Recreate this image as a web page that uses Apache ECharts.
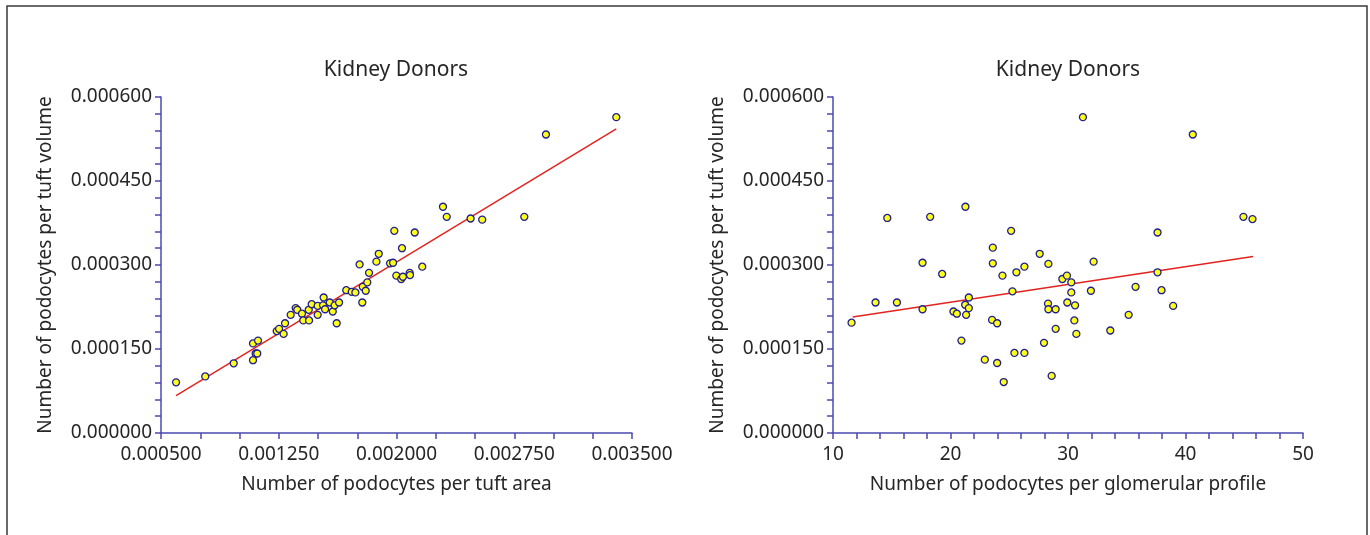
<!DOCTYPE html>
<html>
<head>
<meta charset="utf-8">
<script src="https://cdn.jsdelivr.net/npm/echarts@6/dist/echarts.min.js"></script>
<style>
html,body{margin:0;padding:0;background:#fff;}
#chart{width:1370px;height:535px;}
</style>
</head>
<body>
<div id="chart"></div>
<script>
// ---------- data ----------
const chartTitle = "Kidney Donors";
const yAxisName = "Number of podocytes per tuft volume";
const leftXName = "Number of podocytes per tuft area";
const rightXName = "Number of podocytes per glomerular profile";

// Left panel: podocytes per tuft area (x) vs per tuft volume (y)
const areaX = [0.000596,0.000782,0.000963,0.001086,0.001118,0.001103,0.001113,0.001086,0.001237,0.001252,
  0.001281,0.001290,0.001326,0.001358,0.001368,0.001398,0.001406,0.001443,0.001441,0.001460,
  0.001498,0.001498,0.001536,0.001532,0.001545,0.001575,0.001594,0.001606,0.001634,0.001619,
  0.001680,0.001715,0.001738,0.001765,0.001782,0.001785,0.001804,0.001814,0.001825,0.001872,
  0.001887,0.001959,0.001978,0.001986,0.001999,0.002030,0.002041,0.002035,0.002084,0.002086,
  0.002116,0.002164,0.002296,0.002320,0.002472,0.002546,0.002814,0.002952,0.003400];
const areaY = [0.0000905,0.000101,0.0001245,0.000160,0.000165,0.000142,0.000142,0.000130,0.000182,0.000186,
  0.000177,0.000196,0.000211,0.000223,0.000220,0.000213,0.000201,0.000201,0.000220,0.000230,
  0.000227,0.000211,0.000242,0.000228,0.000221,0.000233,0.000217,0.000228,0.000233,0.000196,
  0.000255,0.000252,0.000251,0.000301,0.000233,0.000261,0.000254,0.000269,0.000286,0.000306,
  0.000320,0.000303,0.000304,0.000361,0.000281,0.000275,0.000279,0.000330,0.000286,0.000282,
  0.000358,0.000297,0.000404,0.000386,0.000383,0.000381,0.000386,0.000533,0.000564];
// fitted line endpoints
const areaFitX = [0.000596, 0.003400];
const areaFitY = [0.0000666, 0.000543];

// Right panel: podocytes per glomerular profile (x) vs per tuft volume (y)
const profX = [11.58,13.62,14.62,15.44,17.62,17.62,18.27,19.29,20.25,20.54,
  20.93,21.25,21.27,21.33,21.56,21.56,22.92,23.54,23.60,23.60,
  23.97,23.97,24.42,24.53,25.16,25.27,25.44,25.61,26.29,26.29,
  27.59,27.96,28.30,28.33,28.33,28.61,28.95,28.95,29.52,29.91,
  29.94,30.28,30.28,30.54,30.60,30.71,31.27,31.95,32.18,33.60,
  35.16,35.75,37.62,37.62,37.96,38.95,40.62,44.93,45.70];
const profY = [0.000197,0.000233,0.000384,0.000233,0.000304,0.000221,0.000386,0.000284,0.000217,0.000213,
  0.000165,0.000229,0.000404,0.000211,0.000242,0.000223,0.000131,0.000202,0.000331,0.000303,
  0.000196,0.000125,0.000281,0.000091,0.000361,0.000253,0.000143,0.000287,0.000297,0.000143,
  0.000320,0.000161,0.000231,0.000302,0.000221,0.000102,0.000221,0.000186,0.000275,0.000281,
  0.000233,0.000269,0.000251,0.000201,0.000228,0.000177,0.000564,0.000254,0.000306,0.000183,
  0.000211,0.000261,0.000358,0.000287,0.000255,0.000227,0.000533,0.000386,0.000382];
const profFitX = [11.67, 45.75];
const profFitY = [0.000207, 0.000315];

// axis tick settings
const yMin = 0, yMax = 0.0006, yTickStep = 0.00003, yLabelEvery = 5;
const axMin = 0.0005, axMax = 0.0035, axTickStep = 0.00025, axLabelEvery = 3;
const pxMin = 10, pxMax = 50, pxTickStep = 2, pxLabelEvery = 5;

// ---------- build ----------
const zip = (xs, ys) => xs.map((x, i) => [x, ys[i]]);
const FONT = '"Noto Sans", "Open Sans", sans-serif';
const TXT = '#262626';
const AX = '#4a4ab0';

function valueAxis(min, max, step, every, decimals, name, gap, isY) {
  return {
    type: 'value', min: min, max: max, interval: step,
    name: name, nameLocation: 'middle', nameGap: gap,
    nameTextStyle: {fontFamily: FONT, fontSize: 19, color: TXT},
    axisLine: {show: true, onZero: false, lineStyle: {color: AX, width: 1.5}},
    axisTick: {show: true, length: 6, lineStyle: {color: AX, width: 1.5}},
    splitLine: {show: false},
    axisLabel: {
      fontFamily: FONT, fontSize: 19, color: TXT, margin: isY ? 9 : 12,
      showMinLabel: true, showMaxLabel: true,
      formatter: function (v) {
        const k = Math.round((v - min) / step);
        return (k % every === 0) ? v.toFixed(decimals) : '';
      }
    }
  };
}

const grids = [
  {left: 161, right: 1370 - 632, top: 97, bottom: 535 - 433},
  {left: 833, right: 1370 - 1303, top: 97, bottom: 535 - 433}
];

const option = {
  backgroundColor: '#ffffff',
  animation: false,
  title: [
    {text: chartTitle, left: 396, top: 60, textAlign: 'center', padding: 0,
     textStyle: {fontFamily: FONT, fontSize: 21, fontWeight: 'normal', color: TXT}},
    {text: chartTitle, left: 1068, top: 60, textAlign: 'center', padding: 0,
     textStyle: {fontFamily: FONT, fontSize: 21, fontWeight: 'normal', color: TXT}}
  ],
  grid: grids,
  xAxis: [
    Object.assign(valueAxis(axMin, axMax, axTickStep, axLabelEvery, 6, leftXName, 42, false), {gridIndex: 0}),
    Object.assign(valueAxis(pxMin, pxMax, pxTickStep, pxLabelEvery, 0, rightXName, 42, false), {gridIndex: 1})
  ],
  yAxis: [
    Object.assign(valueAxis(yMin, yMax, yTickStep, yLabelEvery, 6, yAxisName, 106, true), {gridIndex: 0}),
    Object.assign(valueAxis(yMin, yMax, yTickStep, yLabelEvery, 6, yAxisName, 106, true), {gridIndex: 1})
  ],
  series: [
    {type: 'line', xAxisIndex: 0, yAxisIndex: 0, data: zip(areaFitX, areaFitY), symbol: 'none',
     lineStyle: {color: '#e3231f', width: 1.5}, z: 2, silent: true},
    {type: 'scatter', xAxisIndex: 0, yAxisIndex: 0, data: zip(areaX, areaY), symbolSize: 7,
     itemStyle: {color: '#ffff1a', borderColor: '#1f1f8f', borderWidth: 1.3, opacity: 1}, z: 3},
    {type: 'line', xAxisIndex: 1, yAxisIndex: 1, data: zip(profFitX, profFitY), symbol: 'none',
     lineStyle: {color: '#e3231f', width: 1.5}, z: 2, silent: true},
    {type: 'scatter', xAxisIndex: 1, yAxisIndex: 1, data: zip(profX, profY), symbolSize: 7,
     itemStyle: {color: '#ffff1a', borderColor: '#1f1f8f', borderWidth: 1.3, opacity: 1}, z: 3}
  ],
  graphic: [
    {type: 'rect', shape: {x: 7, y: 6, width: 1360, height: 600}, silent: true,
     style: {fill: 'none', stroke: '#3a3a3a', lineWidth: 1.5}}
  ]
};

const chart = echarts.init(document.getElementById('chart'), null, {renderer: 'canvas'});
chart.setOption(option);
</script>
</body>
</html>
